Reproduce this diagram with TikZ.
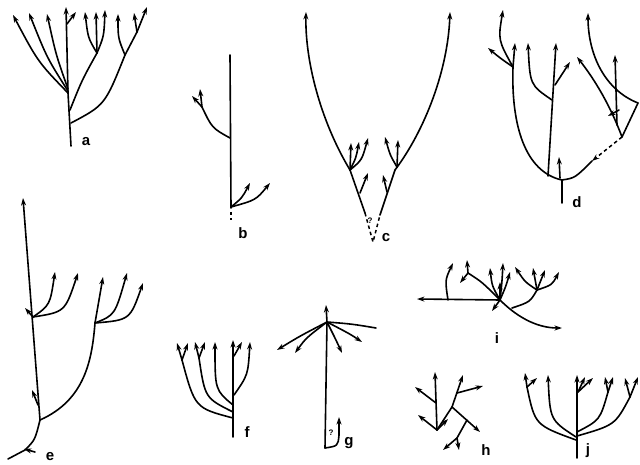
\documentclass[tikz,border=0pt]{standalone}
\usepackage{fontspec}
\setmainfont{Liberation Sans}
\usetikzlibrary{arrows.meta}
\begin{document}
\begin{tikzpicture}[x=1pt,y=-1pt,
  br/.style={line width=1.6pt,line cap=round,line join=round},
  ar/.style={br,-{Stealth[length=7.5pt,width=5pt]}},
  dsh/.style={line width=1.5pt,dash pattern=on 3.5pt off 3pt},
  lab/.style={font=\bfseries\fontsize{15}{15}\selectfont,inner sep=0pt}]
\useasboundingbox[fill=white] (0,0) rectangle (640,465);
% ---------- a ----------
\draw[br] (71,146) -- (68,93);
\draw[ar] (68,93) -- (66,7);
\draw[ar] (67,24) -- (76,12);
\draw[ar] (68,93) .. controls (38,62) .. (13,15);
\draw[ar] (68,91) .. controls (47,58) .. (29,13);
\draw[ar] (68,89) .. controls (56,55) .. (47,14);
\draw[br] (70,110) .. controls (82,80) .. (97,53);
\draw[ar] (97,53) .. controls (88,38) .. (85,12);
\draw[ar] (97,53) -- (96,12);
\draw[ar] (97,53) .. controls (104,36) .. (105,10);
\draw[br] (71,123) .. controls (105,105) .. (125,55);
\draw[ar] (125,55) .. controls (118,38) .. (118,14);
\draw[br] (125,55) -- (137,32);
\draw[ar] (137,32) -- (134,13);
\draw[ar] (137,32) -- (147,7);
\node[lab] (la) at (86,142) {a};
% ---------- b ----------
\draw[br] (230,55) -- (231,208);
\draw[dsh] (231,212) -- (231,220);
\draw[br] (230,138) .. controls (212,128) .. (202,107);
\draw[ar] (202,107) -- (200,89);
\draw[ar] (202,107) -- (192,96);
\draw[ar] (231,207) .. controls (242,198) .. (250,183);
\draw[ar] (231,207) .. controls (256,200) .. (270,183);
\node[lab] (lb) at (243,233) {b};
% ---------- c ----------
\draw[ar] (350,170) .. controls (320,120) and (305,60) .. (306,12);
\draw[ar] (395,170) .. controls (425,130) and (448,70) .. (450,12);
\draw[br] (350,170) -- (365,213);
\draw[br] (395,170) -- (380,215);
\draw[dsh] (365,213) -- (373,242) -- (380,215);
\draw[ar] (350,170) -- (351,143);
\draw[ar] (350,170) .. controls (356,158) .. (359,142);
\draw[ar] (350,170) .. controls (362,160) .. (368,138);
\draw[ar] (360,193) -- (368,173);
\draw[ar] (397,167) .. controls (390,155) .. (385,137);
\draw[ar] (397,167) -- (398,140);
\draw[ar] (387,192) -- (383,175);
\node[font=\bfseries\fontsize{8}{8}\selectfont,inner sep=0pt] (qc) at (370,221) {?};
\node[lab] (lc) at (386,238) {c};
% ---------- d ----------
\draw[br] (562,203) -- (562,180);
\draw[ar] (560,178) -- (559,157);
\draw[br] (562,180) .. controls (525,172) and (511,125) .. (513,67);
\draw[ar] (513,67) -- (515,43);
\draw[ar] (513,67) .. controls (500,58) .. (488,48);
\draw[ar] (513,67) .. controls (498,40) .. (503,10);
\draw[ar] (548,176) -- (556,43);
\draw[ar] (552,100) .. controls (530,85) .. (528,43);
\draw[ar] (555,85) -- (570,62);
\draw[br] (562,180) .. controls (575,178) .. (592,161);
\draw[dsh,-{Stealth[length=7.5pt,width=5pt]}] (622,137) -- (592,161);
\draw[br] (622,137) -- (638,103);
\draw[ar] (638,103) .. controls (605,90) and (588,55) .. (588,13);
\draw[ar] (622,137) .. controls (610,105) and (595,80) .. (577,57);
\draw[ar] (617,125) -- (615,55);
\draw[ar] (619,110) -- (608,116);
\node[lab] (ld) at (577,202) {d};
% ---------- e ----------
\draw[ar] (40,420) -- (23,198);
\draw[br] (40,420) .. controls (35,440) .. (25,450) -- (8,459);
\draw[ar] (35,452) -- (24,449);
\draw[ar] (33,317) .. controls (50,305) .. (55,272);
\draw[ar] (33,317) .. controls (65,312) .. (78,273);
\draw[ar] (33,317) -- (25,308);
\draw[br] (40,420) .. controls (85,400) and (92,360) .. (95,323);
\draw[ar] (95,323) -- (103,277);
\draw[ar] (95,323) .. controls (115,315) .. (127,273);
\draw[ar] (95,323) .. controls (130,320) .. (143,283);
\draw[ar] (38,405) -- (32,390);
\node[lab] (le) at (50,457) {e};
% ---------- f ----------
\draw[ar] (233,437) -- (233,340);
\draw[ar] (234,395) .. controls (248,375) .. (250,342);
\draw[ar] (234,356) -- (242,342);
\draw[ar] (233,405) .. controls (215,390) .. (215,342);
\draw[br] (233,412) .. controls (205,398) .. (199,358);
\draw[ar] (199,358) -- (195,342);
\draw[ar] (199,358) -- (205,342);
\draw[br] (233,418) .. controls (195,408) .. (182,360);
\draw[ar] (182,360) -- (177,343);
\draw[ar] (182,360) -- (188,343);
\node[lab] (lf) at (247,432) {f};
% ---------- g ----------
\draw[br] (325,448) -- (327,322);
\draw[ar] (327,322) -- (326,305);
\draw[ar] (327,322) .. controls (300,336) .. (277,350);
\draw[ar] (327,322) .. controls (306,338) .. (295,353);
\draw[ar] (327,322) .. controls (336,340) .. (342,353);
\draw[ar] (327,322) .. controls (350,334) .. (362,342);
\draw[br] (327,322) .. controls (352,324) .. (376,328);
\draw[br] (325,448) .. controls (338,446) .. (339,435);
\draw[ar] (339,435) -- (339,417);
\node[font=\bfseries\fontsize{8}{8}\selectfont,inner sep=0pt] (qg) at (331,433) {?};
\node[lab] (lg) at (349,443) {g};
% ---------- h ----------
\draw[ar] (437,430) -- (435,372);
\draw[ar] (436,403) -- (415,387);
\draw[ar] (437,430) -- (418,415);
\draw[ar] (437,430) -- (448,419);
\draw[br] (437,430) -- (452,407);
\draw[ar] (452,407) -- (463,375);
\draw[ar] (457,393) -- (483,386);
\draw[ar] (452,407) -- (480,432);
\draw[br] (467,420) -- (457,438);
\draw[ar] (457,438) -- (443,450);
\draw[ar] (457,438) -- (459,450);
\node[lab] (lh) at (486,450) {h};
% ---------- i ----------
\draw[ar] (500,300) -- (417,299);
\draw[ar] (448,300) .. controls (445,280) .. (453,263);
\draw[ar] (500,300) .. controls (520,320) and (540,328) .. (562,328);
\draw[ar] (500,300) -- (492,311);
\draw[ar] (500,300) -- (500,282);
\draw[ar] (500,300) .. controls (492,286) .. (490,268);
\draw[br] (500,300) .. controls (482,282) .. (468,273);
\draw[ar] (468,273) -- (467,260);
\draw[ar] (468,273) -- (460,283);
\draw[ar] (500,300) .. controls (502,282) .. (503,263);
\draw[ar] (500,300) .. controls (506,286) .. (510,272);
\draw[br] (512,308) .. controls (530,302) .. (537,290);
\draw[ar] (537,290) .. controls (525,282) .. (515,267);
\draw[ar] (537,290) -- (533,268);
\draw[ar] (537,290) -- (545,270);
\draw[ar] (537,290) .. controls (552,285) .. (559,272);
\node[lab] (li) at (497,338) {i};
% ---------- j ----------
\draw[ar] (577,458) -- (577,375);
\draw[br] (576,440) .. controls (535,425) .. (527,387);
\draw[ar] (527,387) -- (525,373);
\draw[ar] (527,387) -- (537,378);
\draw[ar] (576,437) .. controls (550,420) .. (548,375);
\draw[ar] (578,392) -- (585,377);
\draw[ar] (578,392) -- (593,378);
\draw[br] (577,432) .. controls (600,420) .. (608,392);
\draw[ar] (608,392) -- (605,377);
\draw[ar] (608,392) -- (613,377);
\draw[br] (577,436) .. controls (615,425) .. (630,397);
\draw[ar] (630,397) -- (625,378);
\draw[ar] (630,397) -- (638,377);
\node[lab] (lj) at (588,451) {j};
\end{tikzpicture}
\end{document}
